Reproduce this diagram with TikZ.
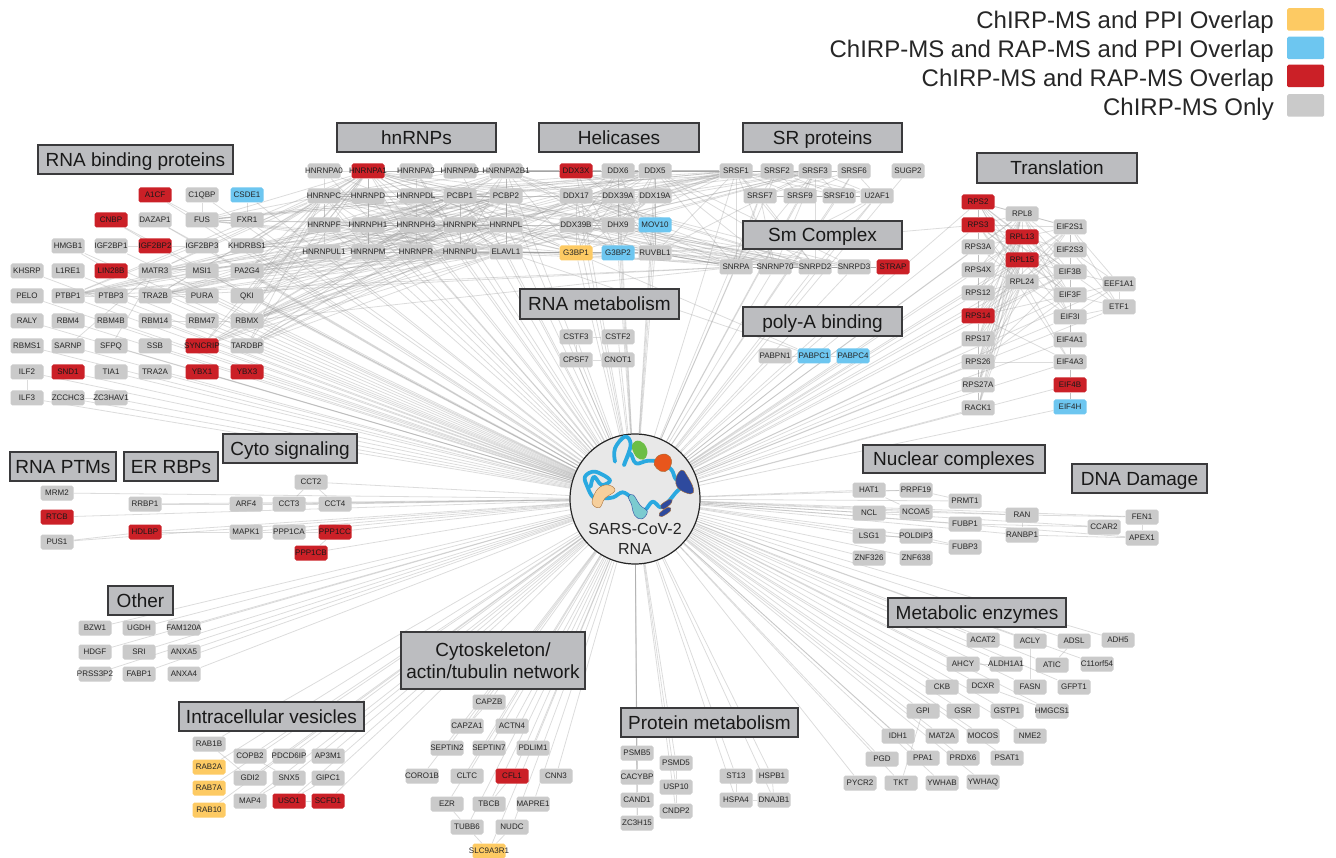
\documentclass[tikz,border=0pt]{standalone}
\usepackage{fontspec}
\setmainfont{Liberation Sans}
\usetikzlibrary{backgrounds}
\definecolor{cgrey}{HTML}{CACACA}
\definecolor{cred}{HTML}{CB2027}
\definecolor{cblue}{HTML}{6DC6F0}
\definecolor{cyel}{HTML}{FDCA63}
\definecolor{clab}{HTML}{BCBDC0}
\definecolor{cink}{HTML}{3A3A3C}
\definecolor{cchain}{HTML}{2AA9E0}
\definecolor{cgreen}{HTML}{6CBE45}
\definecolor{corange}{HTML}{E8561C}
\definecolor{cshoe}{HTML}{2E4A9E}
\definecolor{ctan}{HTML}{F6CF9C}
\definecolor{cteal}{HTML}{7CCBD0}
\definecolor{cbrown}{HTML}{A9713A}
\tikzset{
  ndbase/.style={rectangle,rounded corners=1.8pt,minimum width=33pt,minimum height=15pt,inner sep=0pt,font=\fontsize{8}{8}\selectfont,text=black!85},
  ndg/.style={ndbase,fill=cgrey},
  ndr/.style={ndbase,fill=cred,text=black!90},
  ndb/.style={ndbase,fill=cblue},
  ndy/.style={ndbase,fill=cyel},
  edge/.style={draw=black!38,draw opacity=0.36,line width=0.8pt},
  heavy/.style={draw=black!42,draw opacity=0.6,line width=1pt},
  catbox/.style={rectangle,fill=clab,draw=cink,line width=1.1pt,inner sep=0pt,font=\fontsize{19}{22}\selectfont,text=black!90,align=center,text depth=0pt},
  legtext/.style={anchor=east,inner sep=0pt,font=\fontsize{24}{24}\selectfont,text=black!85},
  swatch/.style={rectangle,rounded corners=1.5pt,minimum width=37pt,minimum height=22.5pt,inner sep=0pt},
  chain/.style={draw=cchain,line width=3.8pt,line cap=round,line join=round},
}
\newcommand{\nodesat}[1]{\foreach \nm/\px/\py/\st in {#1}{%
  \node[nd\st] (\nm) at (\px,\py) {\makebox[0pt]{\nm}};
  \begin{scope}[on background layer]\draw[edge] (hub) -- (\nm);\end{scope}}}
\newcommand{\catlabel}[6]{\node[catbox,minimum width=#4pt-#2pt,minimum height=#5pt-#3pt] (#1) at ({(#2+#4)/2},{(#3+#5)/2}) {#6};}
\newcommand{\mesh}[1]{\foreach \ea [count=\ci] in {#1}{\foreach \eb [count=\cj] in {#1}{\ifnum\ci<\cj\relax\draw[edge] (\ea) -- (\eb);\fi}}}
\newcommand{\bip}[2]{\foreach \ea in {#1}{\foreach \eb in {#2}{\draw[edge] (\ea) -- (\eb);}}}
\newcommand{\cha}[1]{\foreach \ea/\eb in {#1}{\draw[edge] (\ea) -- (\eb);}}
\newcommand{\hvy}[1]{\foreach \ea/\eb in {#1}{\draw[heavy] (\ea) -- (\eb);}}
\begin{document}
\begin{tikzpicture}[x=1pt,y=-1pt]
\path[use as bounding box] (0,0) rectangle (1336,858);

% hub
\node[circle,minimum size=130pt,inner sep=0pt,fill=black!9,draw=black!85,line width=1.2pt] (hub) at (635,499) {};

% legend
\node[legtext] (l1) at (1274,22) {ChIRP-MS and PPI Overlap};
\node[legtext] (l2) at (1274,51) {ChIRP-MS and RAP-MS and PPI Overlap};
\node[legtext] (l3) at (1274,80) {ChIRP-MS and RAP-MS Overlap};
\node[legtext] (l4) at (1274,109) {ChIRP-MS Only};
\node[swatch,fill=cyel] (s1) at (1305.5,19.5) {};
\node[swatch,fill=cblue] (s2) at (1305.5,48) {};
\node[swatch,fill=cred] (s3) at (1305.5,76) {};
\node[swatch,fill=cgrey] (s4) at (1305.5,105.5) {};

% RNA binding proteins
\nodesat{A1CF/155/195/r,C1QBP/202/195/g,CSDE1/247/195/b,
CNBP/111/220/r,DAZAP1/155/220/g,FUS/202/220/g,FXR1/247/220/g,
HMGB1/68/246/g,IGF2BP1/111/246/g,IGF2BP2/155/246/r,IGF2BP3/202/246/g,KHDRBS1/247/246/g,
KHSRP/27/271/g,L1RE1/68/271/g,LIN28B/111/271/r,MATR3/155/271/g,MSI1/202/271/g,PA2G4/247/271/g,
PELO/27/296/g,PTBP1/68/296/g,PTBP3/111/296/g,TRA2B/155/296/g,PURA/202/296/g,QKI/247/296/g,
RALY/27/321/g,RBM4/68/321/g,RBM4B/111/321/g,RBM14/155/321/g,RBM47/202/321/g,RBMX/247/321/g,
RBMS1/27/346/g,SARNP/68/346/g,SFPQ/111/346/g,SSB/155/346/g,SYNCRIP/202/346/r,TARDBP/247/346/g,
ILF2/27/372/g,SND1/68/372/r,TIA1/111/372/g,TRA2A/155/372/g,YBX1/202/372/r,YBX3/247/372/r,
ILF3/27/398/g,ZCCHC3/68/398/g,ZC3HAV1/111/398/g}
% hnRNPs
\nodesat{HNRNPA0/324/171/g,HNRNPA1/368/171/r,HNRNPA3/416/171/g,HNRNPAB/460/171/g,HNRNPA2B1/506/171/g,
HNRNPC/324/196/g,HNRNPD/368/196/g,HNRNPDL/416/196/g,PCBP1/460/196/g,PCBP2/506/196/g,
HNRNPF/324/225/g,HNRNPH1/368/225/g,HNRNPH3/416/225/g,HNRNPK/460/225/g,HNRNPL/506/225/g,
HNRNPUL1/324/252/g,HNRNPM/368/252/g,HNRNPR/416/252/g,HNRNPU/460/252/g,ELAVL1/506/252/g}
% helicases
\nodesat{DDX3X/576/171/r,DDX6/618/171/g,DDX5/655/171/g,
DDX17/576/196/g,DDX39A/618/196/g,DDX19A/655/196/g,
DDX39B/576/225/g,DHX9/618/225/g,MOV10/655/225/b,
G3BP1/576/253/y,G3BP2/618/253/b,RUVBL1/655/253/g}
% RNA metabolism
\nodesat{CSTF3/576/337/g,CSTF2/618/337/g,CPSF7/576/360/g,CNOT1/618/360/g}
% SR, Sm, polyA
\nodesat{SRSF1/736/171/g,SRSF2/777/171/g,SRSF3/815/171/g,SRSF6/854/171/g,SUGP2/908/171/g,
SRSF7/760/196/g,SRSF9/800/196/g,SRSF10/839/196/g,U2AF1/877/196/g,
SNRPA/736/267/g,SNRNP70/775/267/g,SNRPD2/815/267/g,SNRPD3/854/267/g,STRAP/893/267/r,
PABPN1/775/356/g,PABPC1/814/356/b,PABPC4/853/356/b}
% Translation
\nodesat{RPS2/978/202/r,RPS3/978/225/r,RPS3A/978/247/g,RPS4X/978/270/g,RPS12/978/293/g,RPS14/978/316/r,RPS17/978/339/g,RPS26/978/362/g,RPS27A/978/385/g,RACK1/978/408/g,
RPL8/1022/214/g,RPL13/1022/237/r,RPL15/1022/260/r,RPL24/1022/282/g,
EIF2S1/1070/227/g,EIF2S3/1070/250/g,EIF3B/1070/272/g,EIF3F/1070/295/g,EIF3I/1070/317/g,EIF4A1/1070/340/g,EIF4A3/1070/362/g,EIF4B/1070/385/r,EIF4H/1070/407/b,
EEF1A1/1119/284/g,ETF1/1119/307/g}
% Nuclear, DNA damage
\nodesat{HAT1/869/490/g,PRPF19/916/490/g,PRMT1/965/501/g,NCL/869/513/g,NCOA5/916/512/g,FUBP1/965/524/g,RAN/1022/515/g,RANBP1/1022/535/g,
LSG1/869/536/g,POLDIP3/916/536/g,FUBP3/965/547/g,ZNF326/869/558/g,ZNF638/916/558/g,
CCAR2/1104/527/g,FEN1/1142/517/g,APEX1/1142/538/g}
% Metabolic
\nodesat{ACAT2/983/640/g,ACLY/1030/641/g,ADSL/1074/641/g,ADH5/1118/640/g,
AHCY/963/664/g,ALDH1A1/1006/664/g,ATIC/1052/665/g,C11orf54/1097/664/g,
CKB/942/687/g,DCXR/983/686/g,FASN/1030/687/g,GFPT1/1074/687/g,
GPI/923/711/g,GSR/963/711/g,GSTP1/1007/711/g,HMGCS1/1052/711/g,
IDH1/898/736/g,MAT2A/942/736/g,MOCOS/983/736/g,NME2/1030/736/g,
PGD/882/759/g,PPA1/923/758/g,PRDX6/963/758/g,PSAT1/1007/758/g,
PYCR2/860/783/g,TKT/901/783/g,YWHAB/942/783/g,YWHAQ/983/782/g}
% Protein metabolism
\nodesat{PSMB5/637/753/g,CACYBP/637/777/g,CAND1/637/800/g,ZC3H15/637/823/g,
PSMD5/676/763/g,USP10/676/787/g,CNDP2/676/811/g,
ST13/736/776/g,HSPA4/736/800/g,HSPB1/772/776/g,DNAJB1/774/800/g}
% Cytoskeleton
\nodesat{CAPZB/489/702/g,CAPZA1/467/726/g,ACTN4/512/726/g,SEPTIN2/447/748/g,SEPTIN7/489/748/g,PDLIM1/533/748/g,
CORO1B/422/776/g,CLTC/467/776/g,CFL1/512/776/r,CNN3/556/776/g,EZR/447/804/g,TBCB/489/804/g,MAPRE1/533/804/g,
TUBB6/467/827/g,NUDC/512/827/g,SLC9A3R1/489/851/y}
% Vesicles
\nodesat{RAB1B/209/744/g,RAB2A/209/767/y,RAB7A/209/788/y,RAB10/209/810/y,
COPB2/250/756/g,PDCD6IP/289/756/g,AP3M1/328/756/g,GDI2/250/778/g,SNX5/289/778/g,GIPC1/328/778/g,
MAP4/250/801/g,USO1/289/801/r,SCFD1/328/801/r}
% Other
\nodesat{BZW1/95/628/g,UGDH/139/628/g,FAM120A/184/628/g,HDGF/95/652/g,SRI/139/652/g,ANXA5/184/652/g,
PRSS3P2/95/674/g,FABP1/139/674/g,ANXA4/184/674/g}
% PTM, ER, Cyto
\nodesat{MRM2/57/493/g,RTCB/57/517/r,PUS1/57/542/g,RRBP1/145/504/g,HDLBP/145/532/r,
ARF4/246/504/g,CCT3/289/504/g,CCT4/335/504/g,CCT2/311/482/g,MAPK1/246/532/g,PPP1CA/289/532/g,PPP1CC/335/532/r,PPP1CB/311/553/r}

% category boxes
\catlabel{c1}{38}{145}{233}{174}{RNA binding proteins}
\catlabel{c2}{337}{123}{496}{152}{hnRNPs}
\catlabel{c3}{539}{123}{699}{152}{Helicases}
\catlabel{c4}{743}{123}{902}{152}{SR proteins}
\catlabel{c5}{743}{221}{902}{249}{Sm Complex}
\catlabel{c6}{743}{307}{902}{336}{poly-A binding}
\catlabel{c7}{520}{289}{679}{319}{RNA metabolism}
\catlabel{c8}{977}{153}{1137}{183}{Translation}
\catlabel{c9}{10}{452}{116}{481}{RNA PTMs}
\catlabel{c10}{124}{452}{218}{481}{ER RBPs}
\catlabel{c11}{223}{434}{357}{463}{Cyto signaling}
\catlabel{c12}{108}{586}{173}{615}{Other}
\catlabel{c13}{863}{445}{1045}{473}{Nuclear complexes}
\catlabel{c14}{1072}{464}{1207}{493}{DNA Damage}
\catlabel{c15}{888}{598}{1066}{627}{Metabolic enzymes}
\catlabel{c16}{179}{702}{364}{731}{Intracellular vesicles}
\catlabel{c17}{621}{708}{798}{737}{Protein metabolism}
\catlabel{c18}{401}{632}{585}{689}{Cytoskeleton/\\actin/tubulin network}

% protein-protein edges
\begin{scope}[on background layer]
\mesh{HNRNPA1,HNRNPA2B1,HNRNPC,HNRNPK,HNRNPL,HNRNPU,HNRNPM,PCBP1,PCBP2,ELAVL1,HNRNPF,HNRNPH1}
\cha{HNRNPA0/HNRNPC,HNRNPC/HNRNPF,HNRNPF/HNRNPUL1,HNRNPA1/HNRNPD,HNRNPD/HNRNPH1,HNRNPH1/HNRNPM,HNRNPA3/HNRNPDL,HNRNPDL/HNRNPH3,HNRNPH3/HNRNPR,HNRNPA0/HNRNPA1,HNRNPA3/HNRNPAB,HNRNPAB/HNRNPA2B1,HNRNPA0/HNRNPK,HNRNPA3/HNRNPU,HNRNPAB/HNRNPC,HNRNPR/HNRNPA1,HNRNPUL1/HNRNPA2B1}
\bip{PTBP1,TRA2B,RBMX,MATR3,FUS,KHDRBS1,PA2G4,QKI,SYNCRIP,TARDBP}{HNRNPC,HNRNPK,HNRNPL,HNRNPU,PCBP1,PCBP2,HNRNPA1,ELAVL1}
\bip{PTBP1,TRA2B,RBMX,FUS}{SRSF1,DDX5,SNRPA}
\bip{HNRNPA1,HNRNPA2B1,HNRNPC,HNRNPK,HNRNPL,HNRNPU,PCBP1,ELAVL1}{DDX5,DDX17,DHX9,G3BP1,RUVBL1,SRSF1,SRSF3,SNRPD2}
\bip{DDX3X,DDX5,DDX17,DHX9,DDX39B,G3BP1,RUVBL1}{DDX6,DDX39A,DDX19A,G3BP2,MOV10}
\cha{DDX17/DDX39B,DDX39B/G3BP1,DDX5/DHX9}
\bip{DDX5,DDX17,DDX39B,DHX9,RUVBL1}{SRSF1,SRSF3,SNRPA,SNRNP70,SNRPD2,SNRPD3}
\mesh{SRSF1,SRSF2,SRSF3,SRSF6,SRSF7,SRSF9,SRSF10,U2AF1}
\mesh{SNRPA,SNRNP70,SNRPD2,SNRPD3,STRAP}
\bip{SRSF1,SRSF3,SRSF7,U2AF1}{SNRPA,SNRNP70,SNRPD2}
\hvy{HNRNPA2B1/DDX3X,DDX3X/DDX6,DDX6/DDX5,DDX5/SRSF1,ELAVL1/G3BP1,G3BP1/G3BP2,G3BP2/RUVBL1,RUVBL1/SNRPA}
\cha{ELAVL1/PABPC1,G3BP1/PABPC1,RUVBL1/RPS3}
\bip{RPS2,RPS3,RPS3A,RPS4X,RPS12,RPS14,RPS17,RPS26,RPS27A,RACK1}{RPL8,RPL13,RPL15,RPL24}
\bip{RPS2,RPS3,RPS14,RPS26}{EIF2S1,EIF3B,EIF3F,EIF4A3}
\bip{RPL8,RPL13,RPL15,RPL24}{EIF2S1,EIF2S3,EIF3B,EIF3F,EIF3I}
\bip{EIF2S1,EIF2S3,EIF3B,EIF3F,EIF3I}{EEF1A1,ETF1}
\cha{RPL8/RPL13,RPL13/RPL15,RPL15/RPL24,EEF1A1/ETF1}
\hvy{RPS2/RPS3,RPS3/RPS3A,RPS3A/RPS4X,RPS4X/RPS12,RPS12/RPS14,RPS14/RPS17,RPS17/RPS26,RPS26/RPS27A,RPS27A/RACK1}
\hvy{EIF2S1/EIF2S3,EIF2S3/EIF3B,EIF3B/EIF3F,EIF3F/EIF3I,EIF3I/EIF4A1,EIF4A1/EIF4A3,EIF4A3/EIF4B,EIF4B/EIF4H}
\cha{IGF2BP1/IGF2BP2,IGF2BP2/IGF2BP3,A1CF/FUS,CSDE1/FXR1,HMGB1/LIN28B,CNBP/IGF2BP2,DAZAP1/IGF2BP3,ILF2/ILF3,SARNP/MATR3,SFPQ/MATR3,PTBP1/PTBP3,PTBP3/TRA2B,TRA2B/PURA,RBM14/RBMX,ZCCHC3/ZC3HAV1,C1QBP/FUS}
\cha{CSTF3/CSTF2,CPSF7/CNOT1,CSTF3/CPSF7,PABPN1/PABPC1,PABPC1/PABPC4}
\cha{RRBP1/ARF4,ARF4/CCT3,CCT3/CCT4,CCT2/CCT3,CCT2/CCT4,HDLBP/MAPK1,MAPK1/PPP1CA,PPP1CA/PPP1CC,PPP1CB/PPP1CC,PUS1/HDLBP}
\cha{HAT1/PRPF19,NCL/NCOA5,LSG1/POLDIP3,RAN/RANBP1,FEN1/APEX1,POLDIP3/FUBP3,NCOA5/RAN,FUBP1/CCAR2,RANBP1/APEX1,RAN/FEN1,HAT1/NCOA5,PRPF19/PRMT1}
\cha{ACLY/FASN,ADSL/ATIC,GPI/TKT,AHCY/ALDH1A1,DCXR/HMGCS1}
\cha{USO1/SCFD1,RAB1B/GDI2,GIPC1/USO1,SNX5/COPB2,MAP4/SNX5}
\cha{PSMB5/CACYBP,CACYBP/CAND1,CAND1/ZC3H15,PSMD5/USP10,USP10/CNDP2,HSPA4/DNAJB1,ST13/HSPA4,HSPB1/DNAJB1}
\cha{TUBB6/EZR,TUBB6/SLC9A3R1,NUDC/SLC9A3R1,CAPZB/CAPZA1,TBCB/CFL1}
\end{scope}

% hub artwork
\begin{scope}[shift={(500,420)},x=0.3333pt,y=-0.3333pt]
\draw[chain] plot[smooth,tension=0.65] coordinates {(345,125) (345,85) (375,50) (392,75) (372,135) (390,100) (408,130) (445,122) (487,128) (515,150) (528,178) (555,190)};
\draw[chain] plot[smooth,tension=0.6] coordinates {(555,195) (530,215) (505,245) (482,262) (458,245) (435,270) (415,265) (395,235) (368,217) (340,232) (310,235) (280,232) (262,200) (255,170) (285,155) (330,180) (305,195) (282,170) (272,200)};
\draw[fill=cgreen,draw=none] plot[smooth cycle,tension=0.8] coordinates {(397,72) (420,63) (440,85) (438,112) (420,118) (402,100)};
\draw[fill=corange,draw=cbrown,line width=0.4pt] plot[smooth cycle,tension=0.8] coordinates {(463,122) (485,103) (510,110) (513,135) (495,155) (470,145)};
\draw[fill=cshoe,draw=cbrown,line width=0.4pt] plot[smooth cycle,tension=0.7] coordinates {(528,175) (545,150) (560,165) (580,205) (572,222) (535,205)};
\draw[fill=ctan,draw=cbrown,line width=0.4pt] plot[smooth cycle,tension=0.7] coordinates {(277,240) (295,205) (325,195) (345,212) (315,235) (300,262) (282,258)};
\draw[fill=cteal,draw=cshoe,line width=0.4pt] plot[smooth cycle,tension=0.7] coordinates {(385,230) (400,225) (420,255) (442,275) (425,297) (403,285) (395,255)};
\draw[fill=cshoe,draw=cbrown,line width=0.4pt] plot[smooth cycle,tension=0.7] coordinates {(483,255) (510,238) (515,248) (490,268)};
\draw[fill=cshoe,draw=cbrown,line width=0.4pt] plot[smooth cycle,tension=0.7] coordinates {(478,280) (505,262) (512,272) (485,290)};
\end{scope}
\node[inner sep=0pt,align=center,font=\fontsize{16}{20}\selectfont,text=black!85] (hubtext) at (635,539) {SARS-CoV-2\\RNA};
\end{tikzpicture}
\end{document}
